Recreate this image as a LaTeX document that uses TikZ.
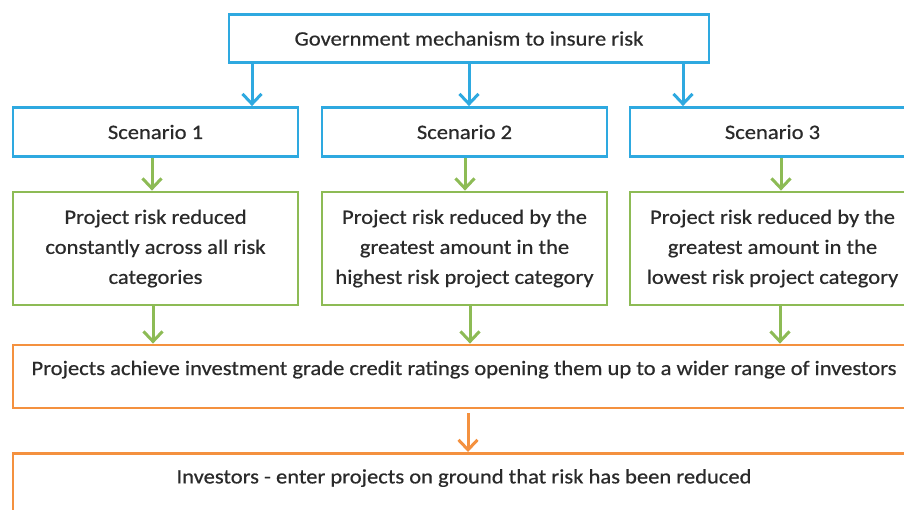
\documentclass[tikz,border=0pt]{standalone}
\usepackage{fontspec}
\setmainfont{Carlito}[FakeStretch=1.1,FakeBold=0.6]
\usetikzlibrary{arrows.meta}
\definecolor{riskblue}{HTML}{2EA9E0}
\definecolor{riskgreen}{HTML}{8DBB55}
\definecolor{riskorange}{HTML}{F4913F}
\definecolor{risktext}{HTML}{2A2A2A}

\begin{document}
\begin{tikzpicture}[x=1pt,y=-1pt,>={Straight Barb[length=10pt,width=19pt]},
  box/.style={draw,line width=2.8pt,text=risktext,inner sep=0pt,align=center,
    font=\fontsize{20.5}{30}\selectfont},
  link/.style={->,line width=3pt}]
\useasboundingbox (0,0) rectangle (904,509);
\clip (0,0) rectangle (904,509);

% top: the mechanism
\node[box,draw=riskblue,minimum width=480pt,minimum height=48pt] (gov) at (469,38.5)
  {Government mechanism to insure risk};

% scenarios
\foreach \i/\x in {1/155.5,2/464.5,3/772.5}
  \node[box,draw=riskblue,minimum width=285pt,minimum height=49pt] (S\i) at (\x,132) {Scenario \i};

\node[box,draw=riskgreen,minimum width=285pt,minimum height=113pt] (G1) at (155.5,248.5)
  {Project risk reduced\\constantly across all risk\\categories};
\node[box,draw=riskgreen,minimum width=285pt,minimum height=113pt] (G2) at (464.5,248.5)
  {Project risk reduced by the\\greatest amount in the\\highest risk project category};
\node[box,draw=riskgreen,minimum width=285pt,minimum height=113pt] (G3) at (772.5,248.5)
  {Project risk reduced by the\\greatest amount in the\\lowest risk project category};

% outcomes
\node[box,draw=riskorange,minimum width=902pt,text height=30pt,text depth=33pt] (R) at (464,376.5)
  {Projects achieve investment grade credit ratings opening them up to a wider range of investors};
\node[box,draw=riskorange,minimum width=902pt,text height=30pt,text depth=40pt,anchor=north] (I) at (464,452)
  {Investors - enter projects on ground that risk has been reduced};

\foreach \i/\x in {1/252,2/469,3/683}
  \draw[link,riskblue] (gov.south -| \x,0) -- (S\i.north -| \x,0);
\foreach \i/\x in {1/152,2/465,3/781}
  \draw[link,riskgreen] (S\i.south -| \x,0) -- (G\i.north -| \x,0);
\foreach \i/\x in {1/153,2/470,3/780}
  \draw[link,riskgreen] (G\i.south -| \x,0) -- (R.north -| \x,0);
\draw[link,riskorange,shorten <=4pt] (R.south -| 468,0) -- (I.north -| 468,0);
\end{tikzpicture}
\end{document}
